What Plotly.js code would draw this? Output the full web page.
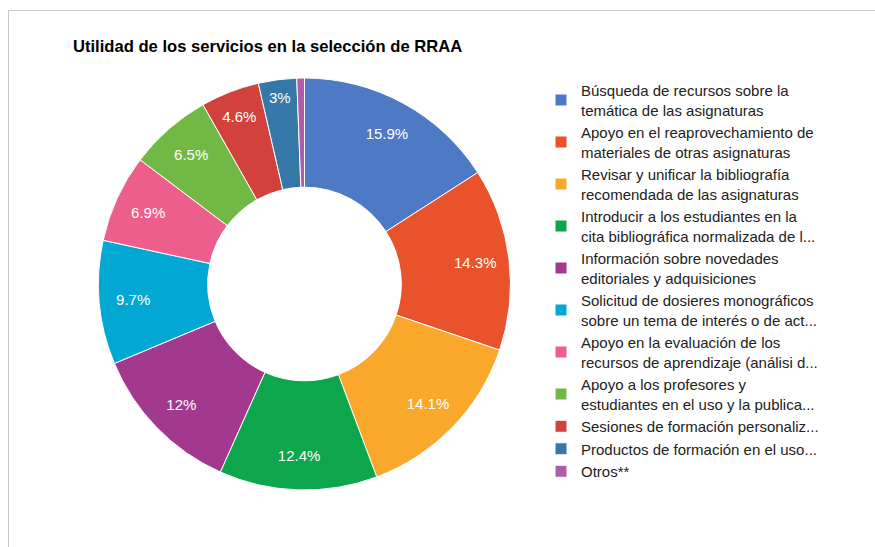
<!DOCTYPE html>
<html>
<head>
<meta charset="utf-8">
<script src="https://cdn.plot.ly/plotly-3.0.1.min.js"></script>
<style>
  html, body { margin: 0; padding: 0; background: #fff; }
  #wrap { position: relative; width: 875px; height: 547px; overflow: hidden; }
  #chart { width: 875px; height: 547px; }
  #frame { position: absolute; left: 8px; top: 10px; width: 900px; height: 600px;
           border-top: 1px solid #c8c8c8; border-left: 1px solid #c8c8c8; pointer-events: none; }
</style>
</head>
<body>
<div id="wrap">
  <div id="chart"></div>
  <div id="frame"></div>
</div>
<script>
const categories = [
  "Búsqueda de recursos sobre la<br>temática de las asignaturas",
  "Apoyo en el reaprovechamiento de<br>materiales de otras asignaturas",
  "Revisar y unificar la bibliografía<br>recomendada de las asignaturas",
  "Introducir a los estudiantes en la<br>cita bibliográfica normalizada de l...",
  "Información sobre novedades<br>editoriales y adquisiciones",
  "Solicitud de dosieres monográficos<br>sobre un tema de interés o de act...",
  "Apoyo en la evaluación de los<br>recursos de aprendizaje (análisi d...",
  "Apoyo a los profesores y<br>estudiantes en el uso y la publica...",
  "Sesiones de formación personaliz...",
  "Productos de formación en el uso...",
  "Otros**"
];
const values = [15.9, 14.3, 14.1, 12.4, 12.0, 9.7, 6.9, 6.5, 4.6, 3.0, 0.6];
const colors = ["#4e79c4", "#e8532b", "#f9a82c", "#0ea64c", "#a2398f", "#00a8d3",
                "#ec5e8c", "#72b844", "#d3413c", "#3577a6", "#b05ca8"];
const textPositions = ["inside","inside","inside","inside","inside","inside",
                       "inside","inside","inside","inside","none"];

const pieDomain = { x: [98/875, 511/875], y: [1 - 490/547, 1 - 78/547] };
const fontFam = "Liberation Sans, Arial, sans-serif";

// Donut slices and legend
const donut = {
  type: "pie",
  labels: categories,
  values: values,
  sort: false,
  direction: "clockwise",
  rotation: 0,
  hole: 0.47,
  marker: { colors: colors, line: { color: "#ffffff", width: 1 } },
  textinfo: "none",
  domain: pieDomain,
  hoverinfo: "label+percent"
};

// Transparent copy used only to place the percentage labels further out in the ring
const labelRing = {
  type: "pie",
  labels: categories,
  values: values,
  sort: false,
  direction: "clockwise",
  rotation: 0,
  hole: 0.67,
  showlegend: false,
  marker: { colors: values.map(() => "rgba(0,0,0,0)"), line: { width: 0 } },
  textinfo: "percent",
  textposition: textPositions,
  insidetextorientation: "horizontal",
  textfont: { family: fontFam, size: 15, color: "#ffffff" },
  domain: pieDomain,
  hoverinfo: "skip"
};

const layout = {
  width: 875,
  height: 547,
  margin: { l: 0, r: 0, t: 0, b: 0 },
  paper_bgcolor: "#ffffff",
  plot_bgcolor: "#ffffff",
  title: {
    text: "<b>Utilidad de los servicios en la selección de RRAA</b>",
    font: { family: fontFam, size: 16.6, color: "#000000" },
    x: 73/875, xanchor: "left", xref: "paper",
    y: 1 - 46/547, yanchor: "middle", yref: "paper"
  },
  showlegend: true,
  legend: {
    x: 541/875, xanchor: "left",
    y: 1 - 74/547, yanchor: "top",
    font: { family: fontFam, size: 15, color: "#222222" },
    bgcolor: "rgba(0,0,0,0)",
    tracegroupgap: 0
  }
};

Plotly.newPlot("chart", [donut, labelRing], layout, { displayModeBar: false, staticPlot: true });
</script>
</body>
</html>
